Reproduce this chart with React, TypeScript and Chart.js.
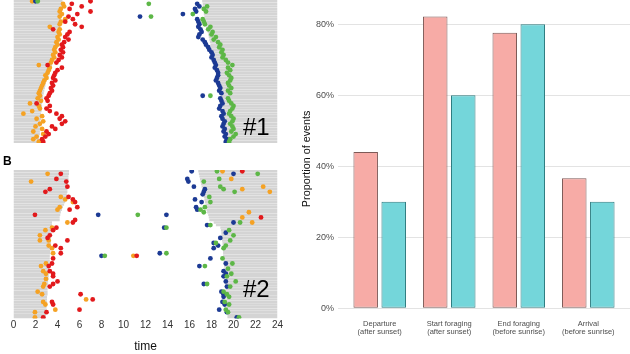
import { useEffect, useRef } from "react";
import { Chart, registerables } from "chart.js";

Chart.register(...registerables);

const FONT = "'Liberation Sans', Arial, Helvetica, sans-serif";

// ---------- Panel #1: one entry per night (row), hours of the day on x ----------
const topSunset = [
  4.45, 4.45, 4.4, 4.4, 4.4, 4.35, 4.35, 4.3,
  4.3, 4.25, 4.2, 4.2, 4.15, 4.1, 4.1, 4.05,
  4.0, 3.95, 3.9, 3.85, 3.8, 3.75, 3.7, 3.65,
  3.55, 3.5, 3.4, 3.35, 3.25, 3.2,
  3.1, 3.0, 2.95, 2.9, 2.85, 2.8,
  2.75, 2.7, 2.7, 2.65, 2.6, 2.6, 2.55, 2.55, 2.5, 2.5, 2.5, 2.45, 2.45, 2.45, 2.4, 2.4, 2.4, 2.35, 2.35, 2.35,
];
const topSunrise = [
  17.15, 17.2, 17.2, 17.25, 17.3, 17.3, 17.35, 17.4,
  17.45, 17.5, 17.55, 17.6, 17.65, 17.7, 17.75, 17.8,
  17.85, 17.9, 17.95, 18.0, 18.05, 18.1, 18.15, 18.2,
  18.25, 18.3, 18.35, 18.4, 18.45, 18.5, 18.55, 18.6,
  18.65, 18.7, 18.75, 18.8, 18.85, 18.9, 18.9, 18.95,
  19.0, 19.0, 19.05, 19.1, 19.1, 19.15, 19.15, 19.2,
  19.2, 19.25, 19.25, 19.3, 19.3, 19.35, 19.35, 19.4,
];
const topDeparture = [
  1.7, 4.5, 4.6, 4.3, 4.2, 4.4, 4.2, 4.7, 4.3, 4.2,
  3.3, 4.2, 4.1, 4.2, 4.0, 4.1, 3.9, 4.0, 3.8, 3.7,
  3.8, 3.6, 3.7, 3.5, 3.4, 2.3, 3.3, 3.2, 3.1, 2.9,
  3.0, 2.8, 2.7, 2.6, 2.5, 2.4, 2.3, 2.4, 2.2, 2.5,
  1.5, 2.3, 2.4, 1.7, 0.9, 2.6, 2.1, 2.7, 2.4, 2.0,
  2.6, 1.8, 2.7, 2.1, 1.8, 2.3,
];
const topStartForaging = [
  7.0, 5.3, 6.2, 5.1, 7.0, 5.8, 5.0, 5.4, 4.7, 5.6,
  6.2, 3.6, 5.1, 4.9, 4.7, 5.0, 4.6, 4.4, 4.5, 4.3,
  4.5, 4.2, 4.4, 4.1, 3.9, 3.1, 4.4, 4.0, 3.8, 3.7,
  3.6, 3.8, 3.5, 3.6, 3.4, 3.5, 3.3, 3.2, 3.0, 3.1,
  2.1, 3.3, 3.0, 3.3, 3.9, 4.4, 4.2, 4.7, 4.4, 3.5,
  3.8, 3.0, 3.2, 2.9, 2.6, 2.7,
];
const topEndForaging = [
  2.0, 16.7, 16.9, 16.5, 16.6, 15.4, 11.5, 16.7, 16.8, 16.9,
  16.8, 17.0, 17.1, 16.9, 16.8, 17.2, 17.4, 17.5, 17.7, 17.8,
  18.0, 18.1, 18.0, 18.2, 18.3, 18.4, 18.3, 18.5, 18.6, 18.6,
  18.5, 18.4, 18.6, 18.7, 18.8, 18.7, 18.9, 17.2, 18.8, 18.9,
  19.0, 18.8, 18.7, 19.0, 19.1, 18.9, 19.0, 19.2, 19.1, 19.0,
  19.2, 19.1, 19.3, 19.2, 19.4, 19.3,
];
const topArrival = [
  2.2, 12.3, 17.6, 17.3, 17.5, 16.3, 12.5, 17.2, 17.3, 17.4,
  17.9, 17.7, 18.1, 18.0, 18.4, 18.2, 18.6, 18.8, 18.7, 19.0,
  18.9, 19.1, 19.0, 19.3, 19.5, 19.9, 19.5, 19.7, 19.4, 19.6,
  19.8, 19.7, 19.5, 19.6, 19.8, 19.5, 19.7, 17.9, 19.5, 19.6,
  19.8, 20.0, 19.9, 19.7, 19.6, 19.8, 20.0, 19.9, 19.7, 19.9,
  20.0, 19.8, 20.2, 20.0, 19.7, 19.6,
];

// ---------- Panel #2: sunset / sunrise per night, events as [night, hour] ----------
const bottomSunset = [
  5.05, 5.05, 5.0, 5.0, 4.95, 4.95, 4.9, 4.9, 4.9,
  4.85, 4.8, 4.75, 4.7, 4.6, 4.5, 4.4, 4.3, 4.25,
  4.2, 4.2,
  3.5, 3.5, 3.5, 3.45, 3.45, 3.45, 3.4, 3.4, 3.4, 3.4, 3.35, 3.35, 3.35, 3.3, 3.3,
  3.3, 3.3, 3.25, 3.25, 3.25, 3.2, 3.2, 3.2, 3.15, 3.15, 3.15, 3.1, 3.1, 3.1, 3.05, 3.05, 3.05, 3.0, 3.0, 3.0, 2.95, 2.95, 2.95,
];
const bottomSunrise = [
  16.8, 16.85, 16.9, 16.95, 17.0,
  17.05, 17.1, 17.15, 17.2, 17.25, 17.3, 17.35, 17.4, 17.45, 17.5, 17.55, 17.6, 17.7,
  17.75, 17.8, 18.2, 18.4,
  18.8, 18.85, 18.9, 18.9, 18.95, 18.95, 19.0, 19.0, 19.0, 19.05, 19.05, 19.05,
  19.1, 19.1, 19.1, 19.15, 19.15, 19.15, 19.2, 19.2, 19.2, 19.25, 19.25, 19.25,
  19.3, 19.3, 19.3, 19.3, 19.35, 19.35, 19.35, 19.4, 19.4, 19.4, 19.45, 19.45,
];
type NightHour = [number, number];
const bottomDeparture: NightHour[] = [
  [2, 3.1], [5, 1.6], [11, 4.3], [12, 4.7], [13, 5.4], [15, 4.2], [16, 4.0], [21, 4.9],
  [23, 3.5], [24, 2.9], [26, 2.4], [28, 2.4], [28, 3.2], [30, 3.2], [31, 3.5], [33, 3.6],
  [37, 2.95], [38, 2.5], [40, 2.7], [41, 2.95], [43, 2.95], [45, 2.8], [46, 2.7], [48, 2.2],
  [49, 2.6], [51, 6.6], [52, 2.7], [53, 2.9], [55, 3.8], [56, 1.95], [58, 1.95], [34, 10.9],
  [1, 19.0], [4, 19.8], [7, 22.7], [8, 20.8], [9, 23.3], [17, 21.4], [19, 20.8], [21, 21.7],
];
const bottomStartForaging: NightHour[] = [
  [2, 4.3], [4, 3.9], [5, 4.8], [7, 4.9], [8, 3.3], [9, 2.9], [11, 5.0], [12, 5.4],
  [13, 5.6], [15, 5.8], [16, 5.1], [18, 1.95], [20, 5.6], [21, 5.4], [23, 3.9], [24, 3.6],
  [26, 3.3], [27, 3.1], [28, 4.9], [30, 3.8], [31, 4.3], [33, 4.3], [35, 3.6], [37, 3.5],
  [38, 3.2], [40, 3.3], [41, 3.6], [42, 3.6], [44, 4.0], [45, 3.6], [46, 3.3], [49, 6.1],
  [51, 7.2], [52, 3.5], [53, 3.6], [55, 6.0], [56, 3.0], [58, 2.7], [34, 11.2],
  [1, 20.8], [19, 22.5],
];
const bottomEndForaging: NightHour[] = [
  [1, 16.2], [2, 20.0], [4, 15.8], [5, 15.9], [7, 16.4], [8, 17.4], [9, 17.3], [10, 17.2],
  [12, 16.5], [13, 17.1], [15, 16.6], [16, 16.7], [18, 7.7], [18, 13.9], [21, 20.0], [22, 17.6],
  [23, 13.7], [25, 19.3], [27, 18.8], [29, 18.2], [30, 18.6], [31, 18.2], [33, 13.3], [34, 8.0],
  [35, 17.9], [37, 19.3], [38, 16.9], [40, 19.1], [41, 19.3], [42, 19.1], [44, 19.3], [45, 17.3],
  [46, 19.4], [48, 18.9], [49, 19.1], [50, 19.1], [52, 19.0], [53, 19.2], [55, 18.7], [56, 19.4],
  [58, 20.3],
];
const bottomArrival: NightHour[] = [
  [1, 18.5], [2, 22.2], [4, 18.7], [5, 17.3], [7, 18.8], [8, 19.1], [9, 20.1], [11, 17.8],
  [13, 17.9], [15, 17.4], [16, 17.0], [17, 17.3], [18, 11.3], [21, 20.6], [22, 17.9], [23, 13.9],
  [24, 19.6], [26, 20.0], [28, 19.7], [29, 18.4], [30, 19.3], [31, 19.1], [33, 13.9], [34, 8.3],
  [35, 19.0], [37, 19.9], [38, 17.4], [39, 19.5], [41, 19.8], [42, 19.4], [44, 20.2], [45, 17.6],
  [46, 19.7], [48, 19.1], [49, 19.4], [50, 19.6], [52, 19.2], [53, 19.6], [55, 19.3], [56, 19.5],
  [58, 20.5],
];

const timeTicks = [0, 2, 4, 6, 8, 10, 12, 14, 16, 18, 20, 22, 24];

// ---------- Bar chart: proportion of events ----------
const eventCategories = [
  ["Departure", "(after sunset)"],
  ["Start foraging", "(after sunset)"],
  ["End foraging", "(before sunrise)"],
  ["Arrival", "(before sunrise)"],
];
const individualOne = [44, 82.2, 77.6, 36.6];
const individualTwo = [30, 60, 80, 30];
const percentTicks = [0, 20, 40, 60, 80];

const EVENT_COLORS = {
  departure: "#F5A224",
  start: "#E2191C",
  end: "#1C3A94",
  arrival: "#5DB747",
};
const DAY_GREY = "#D4D4D4";

function byNight(hours: (number | null)[]): NightHour[] {
  const out: NightHour[] = [];
  hours.forEach((h, i) => {
    if (h != null) out.push([i + 1, h]);
  });
  return out;
}

function actogramConfig(
  sunset: number[],
  sunrise: number[],
  events: { dep: NightHour[]; start: NightHour[]; end: NightHour[]; arr: NightHour[] },
  showAxis: boolean,
  padTop: number
): any {
  const nights = sunset.length;
  const dayBar = (data: any[]) => ({
    type: "bar",
    indexAxis: "y",
    grouped: false,
    data,
    backgroundColor: DAY_GREY,
    borderWidth: 0,
    inflateAmount: 0,
    categoryPercentage: 1,
    barPercentage: 0.94,
    order: 10,
  });
  const dots = (pts: NightHour[], color: string, order: number) => ({
    type: "scatter",
    data: pts.map(([n, h]) => ({ x: h, y: n })),
    pointRadius: 2.4,
    pointBackgroundColor: color,
    pointBorderWidth: 0,
    order,
  });
  return {
    type: "scatter",
    data: {
      datasets: [
        dayBar(sunset.map((s, i) => ({ x: [0, s], y: i + 1 }))),
        dayBar(sunrise.map((s, i) => ({ x: [s, 24], y: i + 1 }))),
        dots(events.dep, EVENT_COLORS.departure, 4),
        dots(events.start, EVENT_COLORS.start, 3),
        dots(events.end, EVENT_COLORS.end, 2),
        dots(events.arr, EVENT_COLORS.arrival, 1),
      ],
    },
    options: {
      responsive: false,
      animation: false,
      events: [],
      layout: { autoPadding: false, padding: { top: padTop, left: 13.5, right: 12.5, bottom: 0 } },
      plugins: { legend: { display: false }, tooltip: { enabled: false } },
      scales: {
        x: {
          type: "linear",
          display: showAxis,
          min: 0,
          max: 24,
          offset: false,
          afterBuildTicks: (s: any) => {
            s.ticks = timeTicks.map((v) => ({ value: v }));
          },
          grid: { display: false, drawTicks: false, offset: false },
          border: { display: false },
          ticks: { padding: 1, color: "#333333", font: { family: FONT, size: 10 } },
          title: {
            display: true,
            text: "time",
            color: "#111111",
            font: { family: FONT, size: 12 },
            padding: { top: 7, bottom: 0 },
          },
        },
        y: {
          type: "linear",
          display: false,
          reverse: true,
          offset: false,
          grid: { offset: false },
          min: 0.5,
          max: nights + 0.5,
        },
      },
    },
  };
}

function barConfig(): any {
  const bars = (values: number[], fill: string, edge: string) => ({
    data: values.map((v, i) => ({ x: i, y: v })),
    backgroundColor: fill,
    borderColor: edge,
    borderWidth: 1,
    borderSkipped: false,
    categoryPercentage: 0.806,
    barPercentage: 0.875,
  });
  return {
    type: "bar",
    data: {
      datasets: [
        bars(individualOne, "#F7ABA6", "#7D5A57"),
        bars(individualTwo, "#74D6DA", "#2E7C80"),
      ],
    },
    options: {
      responsive: false,
      animation: false,
      events: [],
      layout: { padding: { top: 0, right: 0, bottom: 14.4, left: 0 } },
      plugins: { legend: { display: false }, tooltip: { enabled: false } },
      scales: {
        x: {
          type: "linear",
          min: -0.6,
          max: 3.6,
          offset: false,
          afterBuildTicks: (s: any) => {
            s.ticks = eventCategories.map((_, i) => ({ value: i }));
          },
          grid: { display: false, offset: false },
          border: { display: false },
          ticks: {
            autoSkip: false,
            maxRotation: 0,
            minRotation: 0,
            padding: 3.8,
            color: "#4D4D4D",
            font: { family: FONT, size: 7.5, lineHeight: 1.05 },
            callback: (v: number) => eventCategories[v],
          },
        },
        y: {
          min: 0,
          max: 84.2,
          afterBuildTicks: (s: any) => {
            s.ticks = percentTicks.map((v) => ({ value: v }));
          },
          afterFit: (s: any) => {
            s.width = 48;
          },
          grid: { color: "#E3E3E3", lineWidth: 1, drawTicks: false },
          border: { display: false },
          ticks: {
            padding: 4,
            color: "#4D4D4D",
            font: { family: FONT, size: 9 },
            callback: (v: number) => v + "%",
          },
          title: {
            display: true,
            text: "Proportion of events",
            color: "#111111",
            font: { family: FONT, size: 10.8 },
            padding: { top: 10.5, bottom: 0 },
          },
        },
      },
    },
  };
}

function useChart(ref: React.RefObject<HTMLCanvasElement | null>, make: () => any) {
  useEffect(() => {
    if (!ref.current) return;
    const chart = new Chart(ref.current, make());
    return () => chart.destroy();
  }, []);
}

export default function App() {
  const topRef = useRef<HTMLCanvasElement>(null);
  const bottomRef = useRef<HTMLCanvasElement>(null);
  const barRef = useRef<HTMLCanvasElement>(null);

  useChart(topRef, () =>
    actogramConfig(
      topSunset,
      topSunrise,
      {
        dep: byNight(topDeparture),
        start: byNight(topStartForaging),
        end: byNight(topEndForaging),
        arr: byNight(topArrival),
      },
      false,
      0
    )
  );
  useChart(bottomRef, () =>
    actogramConfig(
      bottomSunset,
      bottomSunrise,
      { dep: bottomDeparture, start: bottomStartForaging, end: bottomEndForaging, arr: bottomArrival },
      true,
      10
    )
  );
  useChart(barRef, barConfig);

  const abs = (left: number, top: number): React.CSSProperties => ({ position: "absolute", left, top });
  const bigLabel: React.CSSProperties = {
    fontFamily: FONT,
    fontSize: 24,
    lineHeight: 1,
    color: "#000",
  };

  return (
    <div
      style={{
        position: "absolute",
        left: 0,
        top: 0,
        width: 630,
        height: 354,
        overflow: "hidden",
        background: "#fff",
      }}
    >
      <canvas ref={topRef} width={290} height={143} style={abs(0, 0)} />
      <canvas ref={bottomRef} width={290} height={194} style={abs(0, 160)} />
      <canvas ref={barRef} width={340} height={354} style={abs(290, 0)} />
      <div style={{ ...abs(243, 115), ...bigLabel }}>#1</div>
      <div style={{ ...abs(243, 277), ...bigLabel }}>#2</div>
      <div style={{ ...abs(3, 155), fontFamily: FONT, fontSize: 12, fontWeight: "bold", lineHeight: 1 }}>B</div>
    </div>
  );
}
